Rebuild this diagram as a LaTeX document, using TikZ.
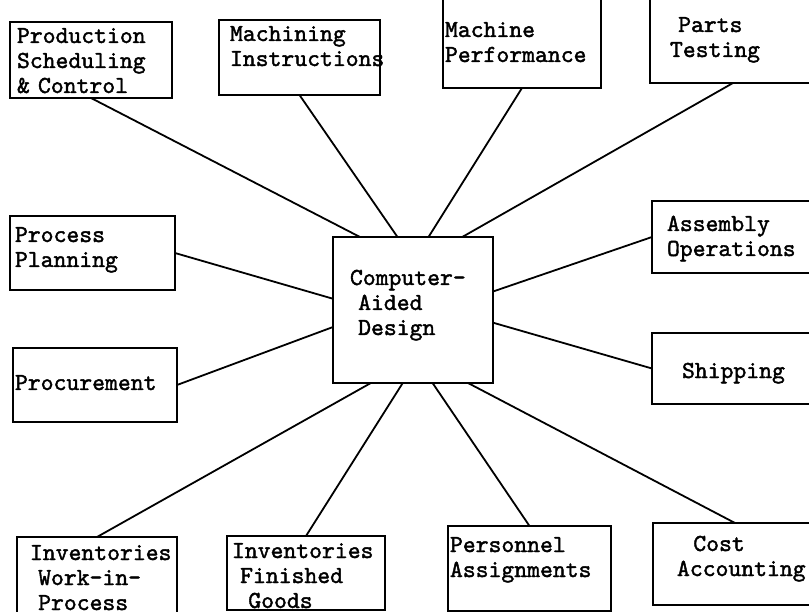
\documentclass[tikz,border=0pt]{standalone}
\usepackage{fontspec}
\newfontfamily\monofont{lmmono10-regular.otf}[FakeBold=1.6]
\usetikzlibrary{positioning}

\begin{document}
\begin{tikzpicture}[x=1pt,y=-1pt]
    \tikzstyle{box}=[draw=black, line width=2.4pt, rectangle, anchor=north west, align=left, inner ysep=0pt, outer sep=0pt, font=\monofont\fontsize{24.5}{25}\selectfont]
    \tikzstyle{link}=[draw=black, line width=1.8pt]

    \useasboundingbox[fill=white] (0,0) rectangle (809,612);

    % centre box
    \node[box, text width=126pt, inner xsep=17pt, text height=48pt, text depth=98pt] (cad) at (333,237) {Computer-\\~Aided\\~Design};

    % top row
    \node[box, text width=148pt, inner xsep=7pt, text height=21pt, text depth=55pt] (psc) at (10,22) {Production\\Scheduling\\\& Control};
    \node[box, text width=139pt, inner xsep=11pt, text height=21pt, text depth=54pt] (mi) at (219,20) {Machining\\Instructions};
    \node[box, text width=154pt, inner xsep=2pt, text height=42pt, text depth=51pt] (mp) at (443,-5) {Machine\\Performance};
    \node[box, text width=126pt, inner xsep=20pt, text height=37pt, text depth=51pt] (pt) at (650,-5) {~Parts\\Testing};

    % left and right
    \node[box, text width=155pt, inner xsep=5pt, text height=26pt, text depth=48pt] (pp) at (10,216) {Process\\Planning};
    \node[box, text width=160pt, inner xsep=2pt, text height=42pt, text depth=32pt] (proc) at (13,348) {Procurement};
    \node[box, text width=148pt, inner xsep=15pt, text height=30pt, text depth=42pt] (ao) at (652,201) {Assembly\\Operations};
    \node[box, text width=118pt, inner xsep=30pt, text height=45pt, text depth=26pt] (ship) at (652,333) {Shipping};

    % bottom row
    \node[box, text width=134pt, inner xsep=13pt, text height=23pt, text depth=54pt] (iwp) at (17,537) {Inventories\\~Work-in-\\~Process};
    \node[box, text width=148pt, inner xsep=5pt, text height=22pt, text depth=52pt] (ifg) at (227,536) {Inventories\\~Finished\\~~Goods};
    \node[box, text width=159pt, inner xsep=2pt, text height=26pt, text depth=59pt] (pa) at (448,526) {Personnel\\Assignments};
    \node[box, text width=116pt, inner xsep=24pt, text height=28pt, text depth=54pt] (ca) at (653,523) {~~Cost\\Accounting};

    \foreach \from/\to in {psc.south/126, mi.south/102, mp.south/78, pt.south/56,
                           pp.east/172, proc.east/192, ao.west/13, ship.west/351,
                           iwp.north/240, ifg.north/262, pa.north/285, ca.north/307}
        \draw[link] (\from) -- (cad.\to);
\end{tikzpicture}
\end{document}
